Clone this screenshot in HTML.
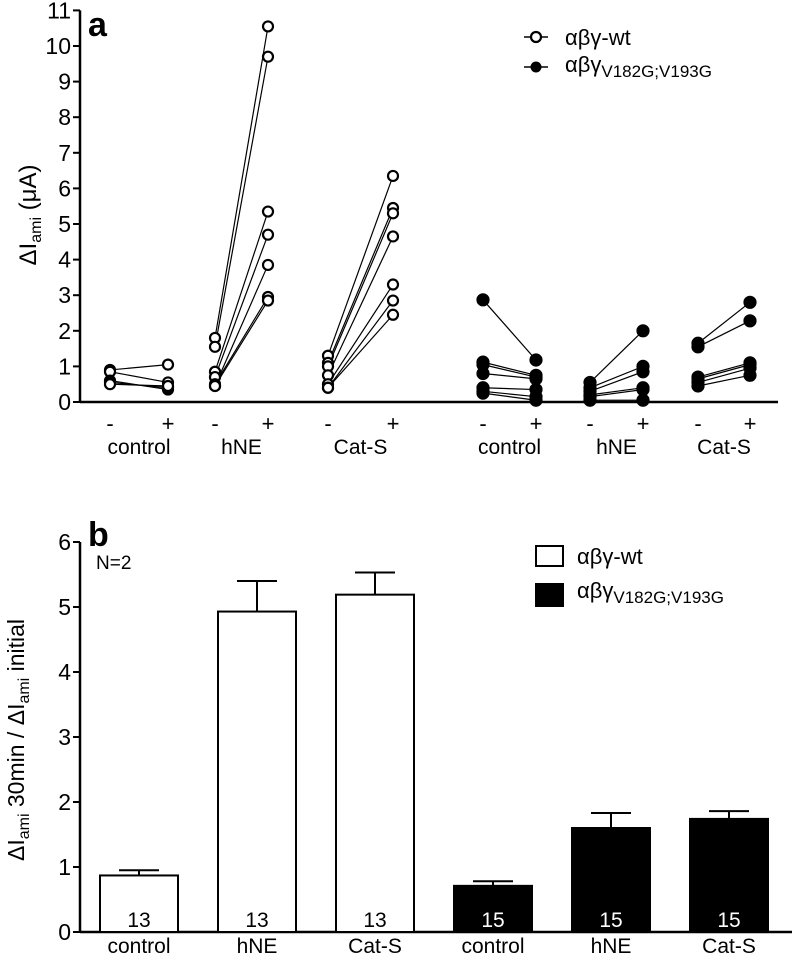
<!DOCTYPE html>
<html><head><meta charset="utf-8"><style>
body{margin:0;background:#fff}
svg{display:block;font-family:"Liberation Sans",sans-serif}
</style></head><body>
<svg id="fig" width="793" height="956" viewBox="0 0 793 956">
<g id="pa"></g>
<g id="pb"></g>
</svg>
<script>
// Panel a data
const aTicks=[0,1,2,3,4,5,6,7,8,9,10,11];
const aGroups=["control","hNE","Cat-S","control","hNE","Cat-S"];
const wtControlBefore=[0.9,0.85,0.6,0.55,0.5];
const wtControlAfter=[1.05,0.55,0.35,0.4,0.45];
const wtHneBefore=[1.8,1.55,0.85,0.7,0.45,0.5,0.45];
const wtHneAfter=[10.55,9.7,5.35,4.7,3.85,2.95,2.85];
const wtCatBefore=[1.3,1.1,1.0,0.75,0.5,0.4,0.4];
const wtCatAfter=[6.35,5.45,5.3,4.65,3.3,2.85,2.45];
const mutControlBefore=[2.87,1.12,1.05,0.8,0.4,0.3,0.25];
const mutControlAfter=[1.18,0.75,0.7,0.65,0.35,0.15,0.05];
const mutHneBefore=[0.55,0.4,0.3,0.2,0.15,0.05];
const mutHneAfter=[2.0,1.0,0.85,0.4,0.35,0.05];
const mutCatBefore=[1.65,1.55,0.7,0.65,0.55,0.45];
const mutCatAfter=[2.8,2.28,1.1,1.05,0.95,0.75];
// Panel b data
const bTicks=[0,1,2,3,4,5,6];
const bCats=["control","hNE","Cat-S","control","hNE","Cat-S"];
const bMeans=[0.87,4.93,5.19,0.71,1.6,1.74];
const bErr=[0.08,0.47,0.34,0.07,0.23,0.12];
const bN=["13","13","13","15","15","15"];

const NS="http://www.w3.org/2000/svg";
function mk(p,t,a,txt){const e=document.createElementNS(NS,t);for(const k in a)e.setAttribute(k,a[k]);if(txt!==undefined)e.textContent=txt;p.appendChild(e);return e;}
const pa=document.getElementById('pa'),pb=document.getElementById('pb');

// ---- Panel a ----
const ay=v=>402-v*35.6;
const slotX=[110,168,215,268,328,393,483,536,590,643,698,750];
let e=mk(pa,'line',{x1:80,y1:ay(11),x2:80,y2:ay(0),stroke:'#000','stroke-width':2.5});


e=mk(pa,'line',{x1:80,y1:ay(0),x2:778,y2:ay(0),stroke:'#000','stroke-width':2.5});


aTicks.forEach(t=>{
 mk(pa,'line',{x1:73,y1:ay(t),x2:80,y2:ay(t),stroke:'#000','stroke-width':2});
 e=mk(pa,'text',{x:71,y:ay(t)+8,'font-size':23,'text-anchor':'end'},String(t));
 
 
});
e=mk(pa,'text',{transform:'translate(36,215) rotate(-90)','font-size':24,'text-anchor':'middle'});
e.innerHTML='ΔI<tspan font-size="16" dy="5">ami</tspan><tspan dy="-5"> (μA)</tspan>';


e=mk(pa,'text',{x:88,y:36,'font-size':34,'font-weight':'bold'},'a');


slotX.forEach((x,i)=>{
 e=mk(pa,'text',{x:x,y:431,'font-size':22,'text-anchor':'middle'},i%2?'+':'-');
 
 
});
aGroups.forEach((g,i)=>{
 e=mk(pa,'text',{x:(slotX[2*i]+slotX[2*i+1])/2,y:454,'font-size':21,'text-anchor':'middle'},g);
 
 
});
const series=[[wtControlBefore,wtControlAfter,0,false],[wtHneBefore,wtHneAfter,2,false],[wtCatBefore,wtCatAfter,4,false],
[mutControlBefore,mutControlAfter,6,true],[mutHneBefore,mutHneAfter,8,true],[mutCatBefore,mutCatAfter,10,true]];
series.forEach(([b,a,s,filled])=>{
 b.forEach((v,i)=>{
  e=mk(pa,'line',{x1:slotX[s],y1:ay(v),x2:slotX[s+1],y2:ay(a[i]),stroke:'#000','stroke-width':1.2});
  
  
 });
 [[b,s],[a,s+1]].forEach(([arr,k])=>arr.forEach(v=>{
  e=mk(pa,'circle',{cx:slotX[k],cy:ay(v),r:filled?5.5:5,fill:filled?'#000':'#fff',stroke:'#000','stroke-width':2.2});
  
  
 }));
});
// legend a
mk(pa,'line',{x1:524,y1:37,x2:548,y2:37,stroke:'#000','stroke-width':1.5});
e=mk(pa,'circle',{cx:536,cy:37,r:5,fill:'#fff',stroke:'#000','stroke-width':2.2});


e=mk(pa,'text',{x:565,y:45,'font-size':22},'αβγ-wt');


mk(pa,'line',{x1:524,y1:67,x2:548,y2:67,stroke:'#000','stroke-width':1.5});
e=mk(pa,'circle',{cx:536,cy:67,r:5.5,fill:'#000'});


e=mk(pa,'text',{x:565,y:72,'font-size':22});
e.innerHTML='αβγ<tspan font-size="17" dy="5">V182G;V193G</tspan>';



// ---- Panel b ----
const by=v=>932-v*65;
const bx=i=>100+i*118;
const bw=78;
e=mk(pb,'line',{x1:80,y1:by(6),x2:80,y2:by(0),stroke:'#000','stroke-width':2.5});


e=mk(pb,'line',{x1:80,y1:by(0),x2:792,y2:by(0),stroke:'#000','stroke-width':2.5});


bTicks.forEach(t=>{
 mk(pb,'line',{x1:73,y1:by(t),x2:80,y2:by(t),stroke:'#000','stroke-width':2});
 e=mk(pb,'text',{x:71,y:by(t)+8,'font-size':23,'text-anchor':'end'},String(t));
 
 
});
e=mk(pb,'text',{transform:'translate(24,740) rotate(-90)','font-size':23,'text-anchor':'middle'});
e.innerHTML='ΔI<tspan font-size="16" dy="5">ami</tspan><tspan dy="-5"> 30min / ΔI</tspan><tspan font-size="16" dy="5">ami</tspan><tspan dy="-5"> initial</tspan>';


e=mk(pb,'text',{x:88,y:546,'font-size':34,'font-weight':'bold'},'b');


e=mk(pb,'text',{x:96,y:569,'font-size':19},'N=2');


bMeans.forEach((m,i)=>{
 const filled=i>=3, x=bx(i), cx=x+bw/2;
 e=mk(pb,'line',{x1:cx,y1:by(m),x2:cx,y2:by(m+bErr[i]),stroke:'#000','stroke-width':2});
 
 
 mk(pb,'line',{x1:cx-20,y1:by(m+bErr[i]),x2:cx+20,y2:by(m+bErr[i]),stroke:'#000','stroke-width':2});
 e=mk(pb,'rect',{x:x,y:by(m),width:bw,height:by(0)-by(m),fill:filled?'#000':'#fff',stroke:'#000','stroke-width':2});
 
 
 e=mk(pb,'text',{x:cx,y:927,'font-size':21,'text-anchor':'middle',fill:filled?'#fff':'#000'},bN[i]);
 
 
 e=mk(pb,'text',{x:cx,y:953,'font-size':21,'text-anchor':'middle'},bCats[i]);
 
 
});
e=mk(pb,'rect',{x:536,y:546,width:27,height:20,fill:'#fff',stroke:'#000','stroke-width':2});


e=mk(pb,'text',{x:577,y:564,'font-size':22},'αβγ-wt');


e=mk(pb,'rect',{x:535,y:583,width:29,height:24,fill:'#000'});


e=mk(pb,'text',{x:577,y:598,'font-size':22});
e.innerHTML='αβγ<tspan font-size="17" dy="5">V182G;V193G</tspan>';


</script>
</body></html>
